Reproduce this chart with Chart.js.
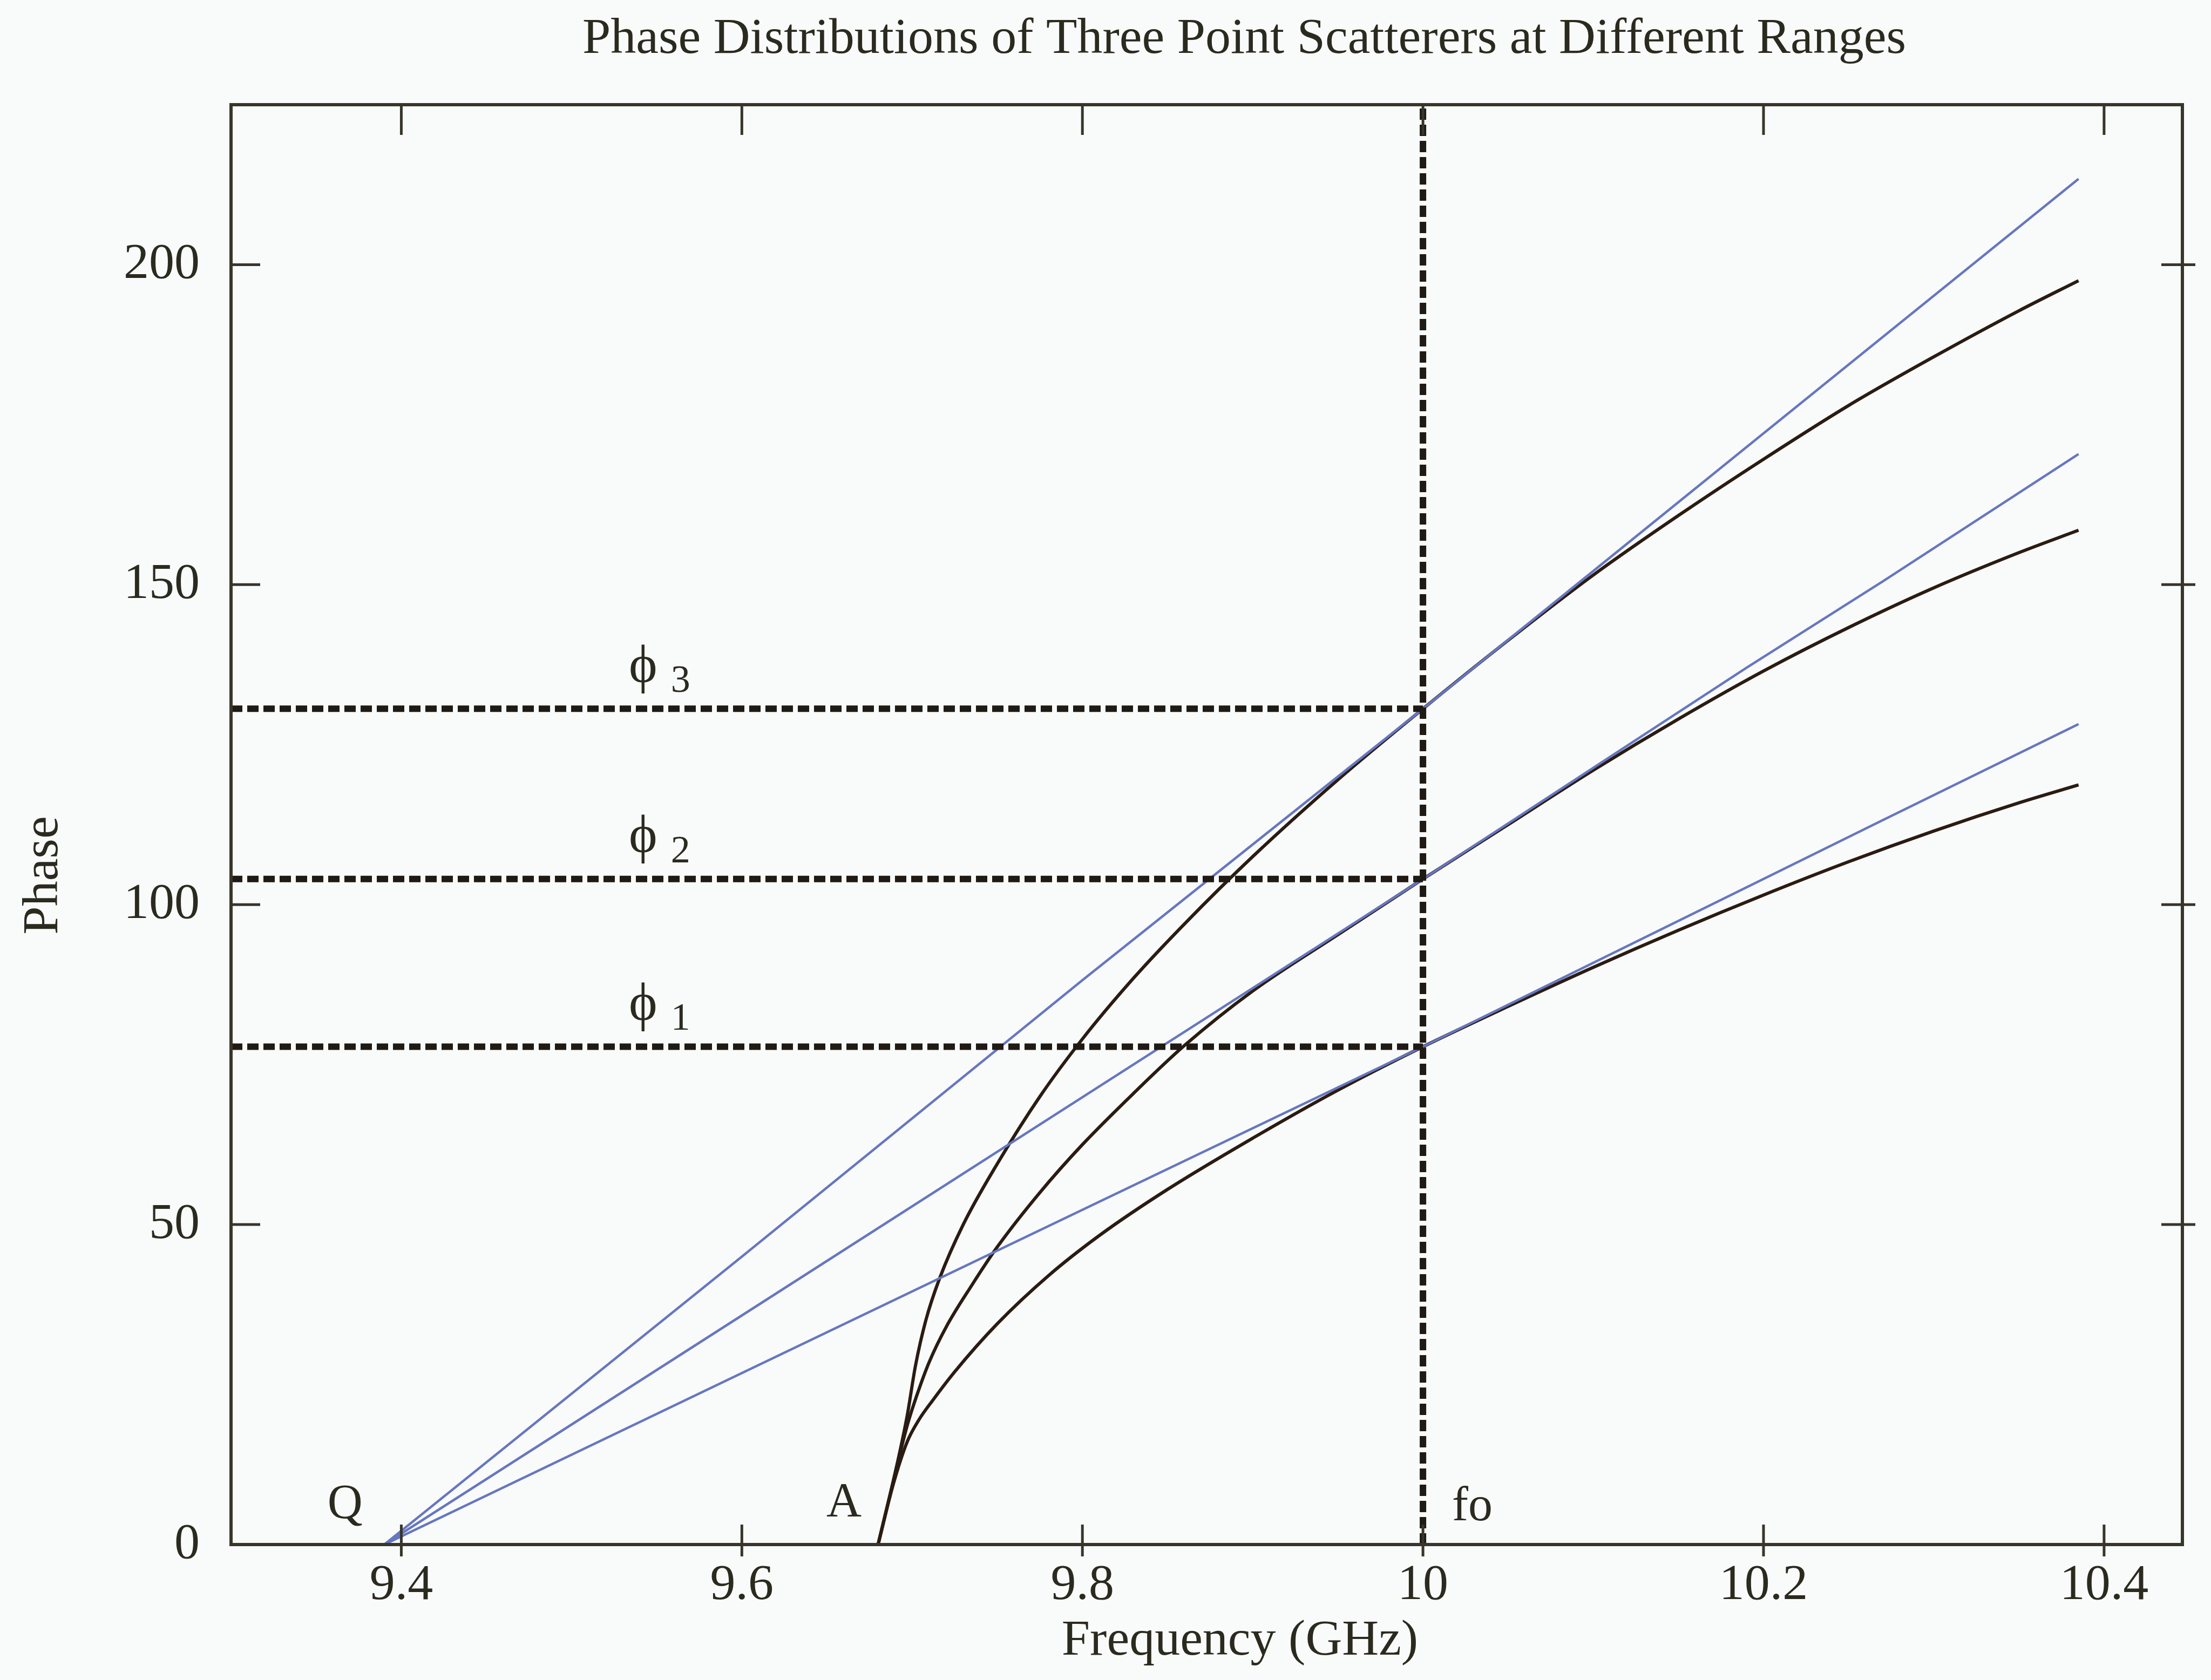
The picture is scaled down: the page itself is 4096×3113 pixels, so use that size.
<!DOCTYPE html>
<html>
<head>
<meta charset="utf-8">
<script src="https://cdn.jsdelivr.net/npm/chart.js@4.4.0/dist/chart.umd.min.js"></script>
<style>
    html, body { margin: 0; padding: 0; background: #f9fafa; }
    #wrap { width: 4096px; height: 3113px; }
</style>
</head>
<body>
<div id="wrap"><canvas id="chart_phase"></canvas></div>
<script>
// axis ticks
var xTicks = [9.4, 9.6, 9.8, 10, 10.2, 10.4];
var xTickLabels = ['9.4', '9.6', '9.8', '10', '10.2', '10.4'];
var yTicks = [0, 50, 100, 150, 200];
var yTickLabels = ['0', '50', '100', '150', '200'];

// blue lines (linear phase), all start at Q
var blueFreq = [9.39, 9.6, 9.8, 10, 10.19, 10.27, 10.385];
var blue1 = [0, 26.8, 52.3, 77.8, 102.7, 113.2, 128.2];
var blue2 = [0, 35.8, 69.9, 104, 137, 150.5, 170.4];
var blue3 = [0, 45, 88.2, 130.6, 171.5, 188.7, 213.4];

// black curves, all start at A
var black1Freq = [9.68, 9.689, 9.697, 9.704, 9.712, 9.725, 9.75, 9.78, 9.81, 9.85, 9.9, 9.95, 10, 10.05, 10.1, 10.15, 10.2, 10.25, 10.3, 10.35, 10.385];
var black1 = [0, 9.5, 16, 19.5, 22.5, 27, 34.5, 42, 48.3, 55.5, 63.5, 71, 77.8, 84.1, 90.2, 96, 101.5, 106.7, 111.5, 115.9, 118.7];
var black2Freq = [9.68, 9.689, 9.697, 9.703, 9.71, 9.72, 9.735, 9.75, 9.775, 9.8, 9.83, 9.86, 9.9, 9.95, 10, 10.05, 10.1, 10.15, 10.2, 10.25, 10.3, 10.35, 10.385];
var black2 = [0, 10, 18.5, 23.5, 28.5, 34, 40.5, 46.5, 55, 62.5, 70.5, 78, 86.5, 95.3, 104, 112.5, 121, 129, 136.5, 143.3, 149.5, 155, 158.5];
var black3Freq = [9.68, 9.689, 9.697, 9.702, 9.708, 9.716, 9.73, 9.75, 9.775, 9.8, 9.83, 9.86, 9.9, 9.95, 10, 10.05, 10.1, 10.15, 10.2, 10.25, 10.3, 10.35, 10.385];
var black3 = [0, 10, 20, 28, 35, 41.5, 50, 59.5, 70, 79, 88.5, 97, 107.5, 119.5, 130.6, 141.3, 151.5, 160.8, 169.6, 178, 185.6, 192.8, 197.5];

// reference levels
var phiLevels = [77.8, 104.0, 130.6];
var phiNames = ['1', '2', '3'];
var foFreq = 10;
var xMin = 9.3, xMax = 10.446, yMin = 0, yMax = 225;

var serif = '"Liberation Serif", "Times New Roman", serif';
var inkColor = '#2b2a1f';

function pts(xs, ys) {
    let tem = [];
    for (var i = 0; i < xs.length; i++) {
        tem.push({x: xs[i], y: ys[i]});
    }
    return tem;
}

function curve(xs, ys, color, width, smooth) {
    return {
        data: pts(xs, ys),
        borderColor: color,
        borderWidth: width,
        pointRadius: 0,
        fill: false,
        cubicInterpolationMode: smooth ? 'monotone' : 'default',
        tension: 0,
    };
}

function dotted(data) {
    return {
        data: data,
        borderColor: '#1f1a14',
        borderWidth: 12,
        borderDash: [21, 9],
        pointRadius: 0,
        fill: false,
    };
}

var datasets = [];
phiLevels.forEach(function (lvl) {
    datasets.push(dotted([{x: xMin, y: lvl}, {x: foFreq, y: lvl}]));
});
datasets.push(dotted([{x: foFreq, y: yMin}, {x: foFreq, y: yMax}]));
datasets.push(curve(blueFreq, blue1, '#6677bf', 4.5, false));
datasets.push(curve(blueFreq, blue2, '#6677bf', 4.5, false));
datasets.push(curve(blueFreq, blue3, '#6677bf', 4.5, false));
datasets.push(curve(black1Freq, black1, '#2a1c12', 6, true));
datasets.push(curve(black2Freq, black2, '#2a1c12', 6, true));
datasets.push(curve(black3Freq, black3, '#2a1c12', 6, true));

function text(ctx, str, x, y, size, align) {
    ctx.font = size + 'px ' + serif;
    ctx.textAlign = align || 'center';
    ctx.textBaseline = 'middle';
    ctx.fillText(str, x, y);
}

var decorPlugin = {
    id: 'decor',
    afterDatasetsDraw: function (chart) {
        var ctx = chart.ctx;
        var a = chart.chartArea;
        var xs = chart.scales.x, ys = chart.scales.y;
        ctx.save();
        ctx.strokeStyle = '#38362a';
        ctx.lineWidth = 6;
        ctx.strokeRect(a.left, a.top, a.right - a.left, a.bottom - a.top);
        // tick marks on all four sides
        ctx.lineWidth = 5;
        xTicks.forEach(function (v) {
            var px = xs.getPixelForValue(v);
            ctx.beginPath();
            ctx.moveTo(px, a.bottom - 37); ctx.lineTo(px, a.bottom + 22);
            ctx.moveTo(px, a.top); ctx.lineTo(px, a.top + 56);
            ctx.stroke();
        });
        yTicks.forEach(function (v) {
            if (v == 0) return;
            var py = ys.getPixelForValue(v);
            ctx.beginPath();
            ctx.moveTo(a.left, py); ctx.lineTo(a.left + 54, py);
            ctx.moveTo(a.right - 39, py); ctx.lineTo(a.right + 24, py);
            ctx.stroke();
        });

        ctx.fillStyle = inkColor;
        text(ctx, 'Phase Distributions of Three Point Scatterers at Different Ranges', 2305, 73, 94);
        text(ctx, 'Frequency (GHz)', 2297, 3041, 94);
        ctx.save();
        ctx.translate(81, 1622);
        ctx.rotate(-Math.PI / 2);
        text(ctx, 'Phase', 0, 0, 94);
        ctx.restore();

        text(ctx, 'Q', xs.getPixelForValue(9.367), ys.getPixelForValue(6.1), 90);
        text(ctx, 'A', xs.getPixelForValue(9.66), ys.getPixelForValue(6.4), 90);
        text(ctx, 'fo', xs.getPixelForValue(10.029), ys.getPixelForValue(5.8), 90);

        phiLevels.forEach(function (lvl, i) {
            var py = ys.getPixelForValue(lvl);
            text(ctx, '\u03D5', xs.getPixelForValue(9.542), py - 76, 100);
            text(ctx, phiNames[i], xs.getPixelForValue(9.564), py - 50, 72);
        });
        ctx.restore();
    }
};

var ctx = document.getElementById('chart_phase').getContext('2d');
var phaseChart = new Chart(ctx, {
    type: 'line',
    data: {datasets: datasets},
    options: {
        animation: false,
        responsive: true,
        maintainAspectRatio: false,
        devicePixelRatio: 1,
        layout: {padding: {top: 194, right: 53, left: 0, bottom: 0}},
        plugins: {
            legend: {display: false},
            tooltip: {enabled: false},
            title: {display: false},
        },
        scales: {
            x: {
                type: 'linear',
                min: xMin,
                max: xMax,
                grid: {display: false, drawTicks: false},
                border: {display: false},
                afterBuildTicks: function (s) { s.ticks = xTicks.map(function (v) { return {value: v}; }); },
                afterFit: function (s) { s.height = 251; },
                ticks: {
                    padding: 20,
                    autoSkip: false,
                    maxRotation: 0,
                    color: inkColor,
                    font: {family: serif, size: 94},
                    callback: function (v, i) { return xTickLabels[i]; },
                },
            },
            y: {
                type: 'linear',
                min: yMin,
                max: yMax,
                grid: {display: false, drawTicks: false},
                border: {display: false},
                afterBuildTicks: function (s) { s.ticks = yTicks.map(function (v) { return {value: v}; }); },
                afterFit: function (s) { s.width = 428; },
                ticks: {
                    padding: 58,
                    color: inkColor,
                    font: {family: serif, size: 94},
                    callback: function (v, i) { return yTickLabels[i]; },
                },
            },
        },
    },
    plugins: [decorPlugin],
});
</script>
</body>
</html>
